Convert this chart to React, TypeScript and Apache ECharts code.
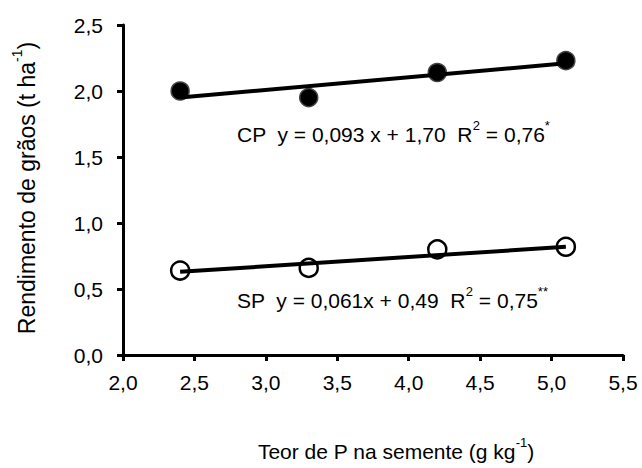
import React, { useEffect, useRef } from "react";
import * as echarts from "echarts";

const xValues = [2.4, 3.3, 4.2, 5.1];
const cpValues = [2.0, 1.95, 2.14, 2.23];
const spValues = [0.64, 0.66, 0.8, 0.82];
const fitX = [2.4, 5.1];
const cpFit = [1.95, 2.21];
const spFit = [0.63, 0.82];
const xTicks = { min: 2.0, max: 5.5, step: 0.5 };
const yTicks = { min: 0.0, max: 2.5, step: 0.5 };

const FONT = "'Liberation Sans', Arial, sans-serif";
const fmt = (v: number) => v.toFixed(1).replace(".", ",");

export default function App() {
  const ref = useRef<HTMLDivElement>(null);
  useEffect(() => {
    if (!ref.current) return;
    document.body.style.margin = "0";
    const chart = echarts.init(ref.current, undefined, { renderer: "svg" });
    const rich = {
      a: { fontSize: 21, fontFamily: FONT, fill: "#000", lineHeight: 26, verticalAlign: "bottom" },
      s: { fontSize: 13, fontFamily: FONT, fill: "#000", lineHeight: 13, verticalAlign: "top" },
    };
    const richBig = {
      a: { fontSize: 23, fontFamily: FONT, fill: "#000", lineHeight: 28, verticalAlign: "bottom" },
      s: { fontSize: 14, fontFamily: FONT, fill: "#000", lineHeight: 14, verticalAlign: "top" },
    };
    chart.setOption({
      animation: false,
      backgroundColor: "#fff",
      grid: { left: 123, right: 19, top: 25, bottom: 113, containLabel: false },
      xAxis: {
        type: "value",
        min: xTicks.min,
        max: xTicks.max,
        interval: xTicks.step,
        splitLine: { show: false },
        axisLine: { show: true, lineStyle: { color: "#000", width: 3 } },
        axisTick: { show: true, length: 6, lineStyle: { color: "#000", width: 3 } },
        axisLabel: { formatter: fmt, fontSize: 21, fontFamily: FONT, color: "#000", margin: 17 },
      },
      yAxis: {
        type: "value",
        min: yTicks.min,
        max: yTicks.max,
        interval: yTicks.step,
        splitLine: { show: false },
        axisLine: { show: true, lineStyle: { color: "#000", width: 3 } },
        axisTick: { show: true, length: 6, lineStyle: { color: "#000", width: 3 } },
        axisLabel: { formatter: fmt, fontSize: 21, fontFamily: FONT, color: "#000", margin: 20 },
      },
      series: [
        {
          name: "CP",
          type: "scatter",
          symbol: "circle",
          symbolSize: 18,
          itemStyle: { color: "#000", borderColor: "#444", borderWidth: 1.5, opacity: 1 },
          data: xValues.map((x, i) => [x, cpValues[i]]),
        },
        {
          name: "SP",
          type: "scatter",
          symbol: "circle",
          symbolSize: 18,
          itemStyle: { color: "#fff", borderColor: "#000", borderWidth: 2.5, opacity: 1 },
          data: xValues.map((x, i) => [x, spValues[i]]),
        },
        {
          name: "CP fit",
          type: "line",
          symbol: "none",
          lineStyle: { color: "#000", width: 4 },
          data: fitX.map((x, i) => [x, cpFit[i]]),
        },
        {
          name: "SP fit",
          type: "line",
          symbol: "none",
          lineStyle: { color: "#000", width: 4 },
          data: fitX.map((x, i) => [x, spFit[i]]),
        },
      ],
      graphic: [
        {
          type: "text",
          left: 237,
          top: 119,
          style: { text: "{a|CP  y = 0,093 x + 1,70  R}{s|2}{a| = 0,76}{s|*}", rich },
        },
        {
          type: "text",
          left: 237,
          top: 285,
          style: { text: "{a|SP  y = 0,061x + 0,49  R}{s|2}{a| = 0,75}{s|**}", rich },
        },
        {
          type: "text",
          x: 396,
          y: 449,
          style: {
            text: "{a|Teor de P na semente (g kg}{s|-1}{a|)}",
            rich,
            align: "center",
            verticalAlign: "middle",
          },
        },
        {
          type: "text",
          x: 24,
          y: 188,
          rotation: Math.PI / 2,
          style: {
            text: "{a|Rendimento de grãos (t ha}{s|-1}{a|)}",
            rich: richBig,
            align: "center",
            verticalAlign: "middle",
          },
        },
      ],
    });
    return () => chart.dispose();
  }, []);
  return <div ref={ref} style={{ width: 642, height: 468 }} />;
}
